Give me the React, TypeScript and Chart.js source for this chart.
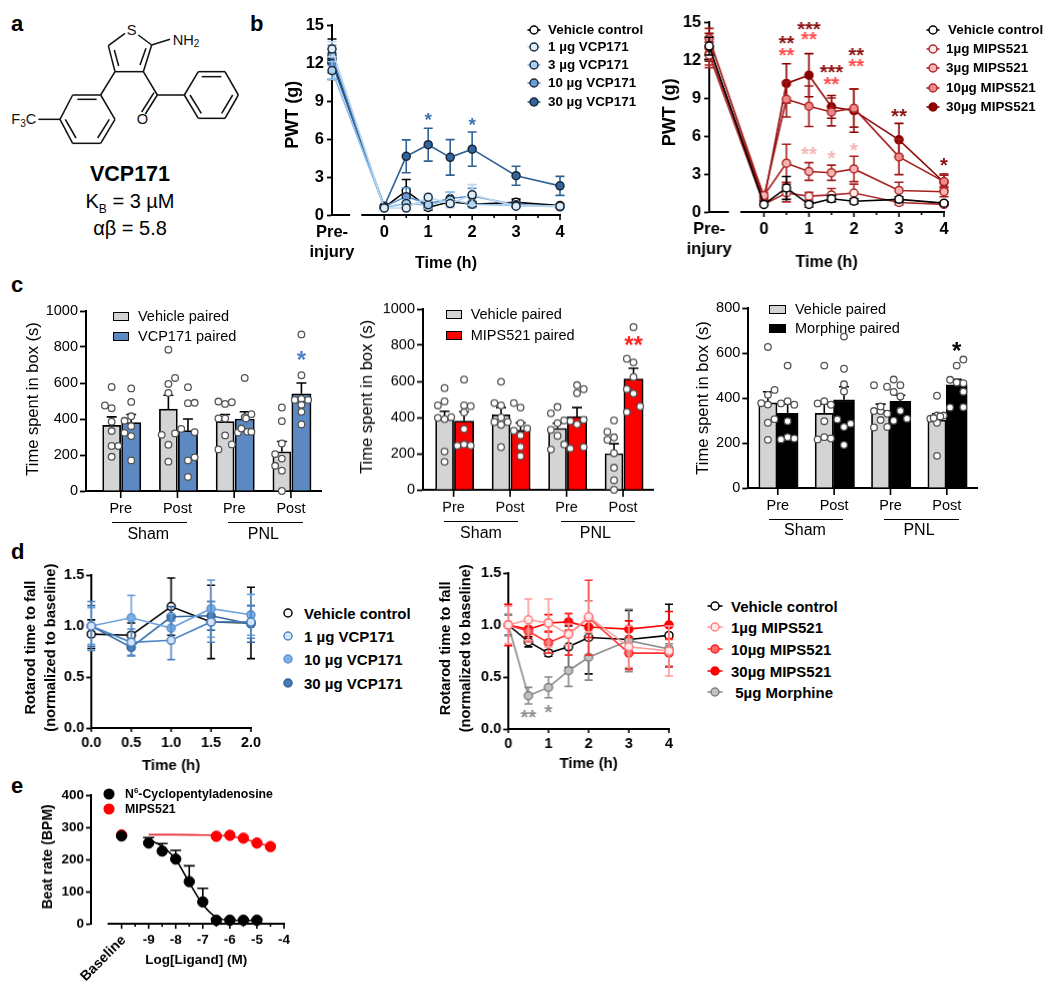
import React, { useEffect, useRef } from 'react';
import { Chart, registerables } from 'chart.js';

Chart.register(...registerables);

const FONT = '"Liberation Sans", Arial, sans-serif';

/* ---------- panel b data ---------- */
const preL = -1.19;
const preR = -1.215;
const bHours = [0, 0.5, 1, 1.5, 2, 3, 4];
const bLVehicle = [12.3, 0.6, 1.9, 0.6, 1.05, 0.85, 1.0, 0.75];
const bLVehicleErr = [1.6, 0.1, 0.9, 0.2, 0.2, 0.2, 0.25, 0.1];
const bL1 = [13.1, 0.55, 0.55, 1.4, 0.9, 1.6, 0.7, 0.7];
const bL1Err = [0.6, 0.1, 0.2, 0.3, 0.3, 0.8, 0.1, 0.1];
const bL3 = [11.4, 0.6, 0.9, 0.8, 1.2, 0.85, 0.75, 0.65];
const bL3Err = [0.7, 0.1, 0.3, 0.3, 0.6, 0.3, 0.1, 0.1];
const bL10 = [12.6, 0.65, 1.45, 0.9, 1.3, 1.5, 0.8, 0.7];
const bL10Err = [0.8, 0.1, 0.7, 0.3, 0.5, 0.6, 0.2, 0.1];
const bL30 = [12.0, 0.7, 4.63, 5.55, 4.55, 5.2, 3.1, 2.3];
const bL30Err = [0.8, 0.1, 1.3, 1.3, 1.4, 1.35, 0.75, 0.75];

const bRVehicle = [13.1, 0.6, 1.9, 0.6, 1.05, 0.85, 1.0, 0.7];
const bRVehicleErr = [0.7, 0.1, 0.9, 0.2, 0.25, 0.2, 0.2, 0.1];
const bR1 = [12.4, 0.6, 1.5, 1.25, 1.35, 1.5, 0.75, 0.6];
const bR1Err = [1.0, 0.1, 0.7, 0.3, 0.5, 0.7, 0.2, 0.1];
const bR3 = [12.5, 1.3, 3.85, 3.2, 3.1, 3.4, 1.7, 1.6];
const bR3Err = [0.9, 0.2, 1.5, 0.7, 0.6, 1.0, 0.65, 0.4];
const bR10 = [13.7, 1.2, 8.9, 8.35, 7.9, 8.2, 4.35, 2.4];
const bR10Err = [0.8, 0.2, 1.4, 1.6, 1.1, 1.5, 1.4, 0.5];
const bR30 = [13.0, 0.9, 10.15, 10.8, 8.3, 8.0, 5.7, 2.35];
const bR30Err = [1.1, 0.2, 1.55, 1.7, 0.9, 1.7, 1.3, 0.65];

/* ---------- panel c data ---------- */
const cGroups = [1, 2, 3, 4];
const cGroupLabels = ['Pre', 'Post', 'Pre', 'Post'];
const c1Veh = [365, 455, 385, 218];
const c1VehTop = [412, 532, 425, 275];
const c1Drug = [380, 335, 400, 540];
const c1DrugTop = [425, 400, 440, 600];
const c2Veh = [390, 415, 340, 200];
const c2VehTop = [435, 455, 368, 255];
const c2Drug = [380, 330, 405, 613];
const c2DrugTop = [432, 370, 455, 672];
const c3Veh = [378, 332, 345, 302];
const c3VehTop = [428, 372, 373, 330];
const c3Drug = [332, 392, 385, 458];
const c3DrugTop = [372, 450, 412, 483];

const c1VehPts = [
  [[-1, 475], [0, 578], [0, 460], [0, 385], [0, 333], [0, 250], [1, 250], [0, 190]],
  [[0, 785], [1, 628], [0, 595], [0, 545], [-1, 312], [1, 320], [0, 257], [0, 163]],
  [[-1, 497], [0, 484], [1, 493], [-1, 403], [0, 403], [0, 309], [1, 259], [-1, 231]],
  [[0, 464], [0, 388], [0, 264], [-1, 205], [0, 180], [-1, 140], [0, 113], [0, 0]],
];
const c1DrugPts = [
  [[0, 570], [0, 495], [0, 415], [-1, 390], [0, 360], [-1, 323], [0, 305], [0, 170]],
  [[0, 577], [0, 488], [1, 490], [-1, 345], [1, 327], [0, 170], [1, 187], [0, 78]],
  [[0, 628], [0, 410], [1, 427], [-1, 325], [-0.5, 347], [0.4, 329], [1, 329], [0.2, 403]],
  [[0, 870], [0, 643], [-1, 506], [0, 512], [1, 506], [0, 479], [0, 440], [0, 370]],
];
const c2VehPts = [
  [[0, 563], [0, 489], [-1, 467], [-1, 398], [0, 391], [1, 402], [0, 212], [0, 155]],
  [[0, 598], [-1, 480], [0, 467], [0, 400], [-1, 375], [1, 375], [0, 360], [0, 236]],
  [[0, 458], [-1, 423], [0, 369], [-1, 332], [1, 384], [0, 299], [1, 251], [-1, 223]],
  [[0, 384], [-1, 321], [0, 290], [-1, 277], [0, 203], [0, 122], [0, 53], [0, 0]],
];
const c2DrugPts = [
  [[0, 610], [0, 467], [1, 463], [0, 428], [0, 336], [-1, 244], [0, 251], [1, 245]],
  [[-1, 480], [0, 455], [0, 369], [-1, 327], [1, 339], [0, 301], [0, 238], [0, 186]],
  [[0, 579], [1, 557], [0, 535], [-1, 380], [1, 387], [0, 362], [-1, 229], [1, 236]],
  [[0, 900], [-1, 725], [0, 705], [0, 624], [-1, 557], [0, 533], [1, 461], [-1, 430]],
];
const c3VehPts = [
  [[0, 627], [1, 436], [0, 414], [-1, 377], [0, 371], [1, 306], [0, 290], [0, 214]],
  [[0, 544], [-1, 376], [0, 386], [1, 370], [0, 297], [-1, 216], [0, 226], [1, 220]],
  [[-1, 457], [-1, 342], [0, 342], [1, 330], [0, 302], [-1, 269], [1, 271], [0, 362]],
  [[0, 410], [-1, 308], [0, 322], [1, 322], [0, 290], [0, 143], [-0.5, 311], [0.5, 318]],
];
const c3DrugPts = [
  [[0, 544], [-1, 376], [0, 386], [1, 370], [0, 297], [-1, 216], [0, 226], [1, 220]],
  [[0, 673], [0, 530], [0, 461], [0, 429], [-1, 305], [1, 286], [0, 271], [0, 191]],
  [[-1, 482], [0, 457], [-2, 450], [-1, 427], [0, 407], [0, 343], [-1, 299], [1, 308]],
  [[1, 571], [0, 544], [-1, 481], [1, 466], [0, 469], [1, 428], [-1, 358], [1, 359]],
];

/* ---------- panel d data ---------- */
const dLHours = [0, 0.5, 1, 1.5, 2];
const dLVehicle = [0.92, 0.91, 1.19, 1.04, 1.03];
const dLVehicleErr = [0.14, 0.12, 0.28, 0.36, 0.35];
const dL1 = [1.0, 0.84, 0.86, 1.04, 1.04];
const dL1Err = [0.24, 0.13, 0.19, 0.2, 0.16];
const dL10 = [1.0, 1.08, 0.98, 1.17, 1.11];
const dL10Err = [0.18, 0.22, 0.14, 0.28, 0.2];
const dL30 = [1.0, 0.79, 1.09, 1.1, 1.02];
const dL30Err = [0.2, 0.08, 0.1, 0.14, 0.18];

const dRHours = [0, 0.5, 1, 1.5, 2, 3, 4];
const dRVehicle = [1.0, 0.84, 0.73, 0.79, 0.88, 0.86, 0.9];
const dRVehicleErr = [0.1, 0.05, 0.03, 0.2, 0.35, 0.28, 0.3];
const dR1 = [1.0, 1.05, 1.02, 0.91, 1.08, 0.79, 0.75];
const dR1Err = [0.18, 0.2, 0.23, 0.1, 0.15, 0.2, 0.24];
const dR10 = [1.0, 0.94, 0.83, 0.91, 1.07, 0.73, 0.73];
const dR10Err = [0.18, 0.1, 0.1, 0.2, 0.36, 0.16, 0.13];
const dR30 = [1.0, 0.96, 1.02, 1.03, 0.98, 0.96, 1.0];
const dR30Err = [0.2, 0.08, 0.08, 0.08, 0.1, 0.08, 0.13];
const dRMorph = [1.0, 0.32, 0.4, 0.56, 0.69, 0.85, 0.77];
const dRMorphErr = [0.1, 0.08, 0.1, 0.15, 0.22, 0.3, 0.05];

/* ---------- panel e data ---------- */
const eDoses = [-9, -8.5, -8, -7.5, -7, -6.5, -6, -5.5, -5];
const eCpa = [251, 226, 201, 131, 68, 11, 11, 11, 11];
const eCpaTop = [268, 249, 228, 180, 110, 16, 14, 14, 14];
const eMipsDoses = [-6.5, -6, -5.5, -5, -4.5];
const eMips = [272, 275, 266, 251, 240];
const eBaselineX = -10;
const eBaseCpa = 273;
const eBaseMips = 276;
const eCpaFitX = [-9, -8.5, -8, -7.5, -7, -6.5, -6, -5];
const eCpaFitY = [262, 240, 200, 128, 60, 20, 11, 10];
const eMipsFitX = [-9, -8, -7, -6.5, -6, -5.5, -5, -4.5];
const eMipsFitY = [277, 277, 276, 275, 272, 264, 252, 240];

/* ---------- colours ---------- */
const K = '#000000';
const blue = {
  b1: { line: '#bcd7ef', fill: '#dcedf9', edge: '#1f2d3d' },
  b3: { line: '#8fbfea', fill: '#a9d2f3', edge: '#1f2d3d' },
  b10: { line: '#5f93cf', fill: '#6f9fd8', edge: '#1f2d3d' },
  b30: { line: '#2f6296', fill: '#35659b', edge: '#16263a' },
  d1: { line: '#4f84c4', fill: '#d6e6f6', edge: '#4f84c4' },
  d10: { line: '#6ea3dc', fill: '#7fb0e4', edge: '#5e95d2' },
  d30: { line: '#33669f', fill: '#4a7db4', edge: '#2f6296' },
};
const red = {
  b1: { line: '#b02a2a', fill: '#fdeeee', edge: '#b02a2a' },
  b3: { line: '#a81f1f', fill: '#f7b4b4', edge: '#b02a2a' },
  b10: { line: '#a01818', fill: '#f08a8a', edge: '#b02a2a' },
  b30: { line: '#8b0000', fill: '#8b0000', edge: '#8b0000' },
  d1: { line: '#ff9a9a', fill: '#ffe9e9', edge: '#ff8080' },
  d10: { line: '#ff3030', fill: '#f76b6b', edge: '#ff2020' },
  d30: { line: '#ff0000', fill: '#ff0000', edge: '#ff0000' },
  morph: { line: '#8a8a8a', fill: '#c2c2c2', edge: '#808080' },
};
const veh = { line: K, fill: '#ffffff', edge: K };

type Style = { line: string; fill: string; edge: string };

function series(xs: number[], ys: number[], err: number[], st: Style, order: number, r = 4, cap = 4.5) {
  return {
    type: 'line',
    data: xs.map((x, i) => ({ x, y: ys[i] })),
    borderColor: st.line,
    borderWidth: 1.6,
    pointBackgroundColor: st.fill,
    pointBorderColor: st.edge,
    pointBorderWidth: 1.5,
    pointRadius: r,
    tension: 0,
    clip: false,
    order,
    err,
    errColor: st.line,
    errCap: cap,
    errBoth: true,
  };
}

function barSet(vals: number[], tops: number[], off: number, fill: string, thick: number, order: number) {
  return {
    type: 'bar',
    data: cGroups.map((g, i) => ({ x: g + off, y: vals[i] })),
    backgroundColor: fill,
    borderColor: K,
    borderWidth: 1.7,
    barThickness: thick,
    grouped: false,
    order,
    err: vals.map((v, i) => tops[i] - v),
    errColor: K,
    errCap: 5,
    errBoth: false,
  };
}

function dots(pts: number[][][], off: number) {
  const data: { x: number; y: number }[] = [];
  pts.forEach((grp, g) => grp.forEach((p) => data.push({ x: cGroups[g] + off + p[0] * 0.118, y: p[1] })));
  return {
    type: 'scatter',
    data,
    pointBackgroundColor: '#ffffff',
    pointBorderColor: '#555555',
    pointBorderWidth: 1.3,
    pointRadius: 3.3,
    clip: false,
    order: 0,
  };
}

type Txt = { t: string; x: number; y: number; font: string; rot?: number; color?: string };
type Star = { x: number; v: number; t: string; color: string; size: number };
type Spec = {
  L: number; T: number; R: number; B: number;
  padL: number; padT: number; padR: number; padB: number;
  xMin: number; xMax: number; yMin: number; yMax: number; yStep: number;
  xTicks: number[]; xLabel: (v: number) => any;
  major: number[]; minor?: number[]; majLen: number; minLen?: number;
  segs: number[][];
  tickFont: any; xTickFont?: any;
  xPad: number; yLen: number; yPad: number;
  xTitle?: any;
  datasets: any[];
  texts?: Txt[]; stars?: Star[];
};

const bold = (size: number) => ({ family: FONT, size, weight: 'bold' as const, lineHeight: 1.2 });
const reg = (size: number) => ({ family: FONT, size, weight: 'normal' as const, lineHeight: 1.2 });

function decor(spec: Spec) {
  const cx0 = spec.L - spec.padL;
  const cy0 = spec.T - spec.padT;
  return {
    id: 'decor',
    beforeDatasetsDraw(chart: any) {
      const c = chart.ctx;
      const sx = chart.scales.x;
      const y0 = chart.chartArea.bottom;
      c.save();
      c.strokeStyle = K;
      c.lineWidth = 2;
      c.beginPath();
      spec.segs.forEach((s) => {
        c.moveTo(sx.getPixelForValue(s[0]) - 1, y0);
        c.lineTo(sx.getPixelForValue(s[1]) + 1, y0);
      });
      c.stroke();
      c.lineWidth = 1.6;
      c.beginPath();
      spec.major.forEach((v) => {
        const p = sx.getPixelForValue(v);
        c.moveTo(p, y0);
        c.lineTo(p, y0 + spec.majLen);
      });
      (spec.minor || []).forEach((v) => {
        const p = sx.getPixelForValue(v);
        c.moveTo(p, y0);
        c.lineTo(p, y0 + (spec.minLen || 3));
      });
      c.stroke();
      c.restore();
    },
    beforeDatasetDraw(chart: any, args: any) {
      const ds: any = chart.data.datasets[args.index];
      if (!ds.err) return;
      const c = chart.ctx;
      const sx = chart.scales.x;
      const sy = chart.scales.y;
      c.save();
      c.strokeStyle = ds.errColor;
      c.lineWidth = 1.6;
      c.beginPath();
      ds.data.forEach((d: any, i: number) => {
        const e = ds.err[i];
        const px = sx.getPixelForValue(d.x);
        const top = sy.getPixelForValue(d.y + e);
        const bot = sy.getPixelForValue(ds.errBoth ? Math.max(d.y - e, 0) : d.y);
        c.moveTo(px, top);
        c.lineTo(px, bot);
        c.moveTo(px - ds.errCap, top);
        c.lineTo(px + ds.errCap, top);
        if (ds.errBoth) {
          c.moveTo(px - ds.errCap, bot);
          c.lineTo(px + ds.errCap, bot);
        }
      });
      c.stroke();
      c.restore();
    },
    afterDatasetsDraw(chart: any) {
      const c = chart.ctx;
      c.save();
      (spec.stars || []).forEach((s) => {
        c.font = `bold ${s.size}px ${FONT}`;
        c.fillStyle = s.color;
        c.textAlign = 'center';
        c.textBaseline = 'alphabetic';
        c.fillText(s.t, chart.scales.x.getPixelForValue(s.x), chart.scales.y.getPixelForValue(s.v) + s.size * 0.43);
      });
      (spec.texts || []).forEach((t) => {
        c.save();
        c.translate(t.x - cx0, t.y - cy0);
        c.rotate(((t.rot || 0) * Math.PI) / 180);
        c.font = t.font;
        c.fillStyle = t.color || K;
        c.textAlign = 'center';
        c.textBaseline = 'middle';
        c.fillText(t.t, 0, 0);
        c.restore();
      });
      c.restore();
    },
  };
}

function Panel({ spec }: { spec: Spec }) {
  const ref = useRef<HTMLCanvasElement | null>(null);
  const w = spec.padL + spec.R - spec.L + spec.padR;
  const h = spec.padT + spec.B - spec.T + spec.padB;
  useEffect(() => {
    const chart = new Chart(ref.current as HTMLCanvasElement, {
      type: 'line',
      data: { datasets: spec.datasets },
      plugins: [decor(spec)],
      options: {
        animation: false,
        responsive: false,
        devicePixelRatio: 1,
        layout: { autoPadding: false, padding: { left: 0, right: spec.padR, top: spec.padT, bottom: 0 } },
        plugins: { legend: { display: false }, tooltip: { enabled: false } },
        scales: {
          x: {
            type: 'linear',
            offset: false,
            min: spec.xMin,
            max: spec.xMax,
            border: { display: false },
            grid: { display: false, drawTicks: true, tickLength: spec.majLen },
            afterBuildTicks: (a: any) => {
              a.ticks = spec.xTicks.map((value) => ({ value }));
            },
            afterFit: (s: any) => {
              s.height = spec.padB;
            },
            ticks: {
              color: K,
              autoSkip: false,
              maxRotation: 0,
              minRotation: 0,
              padding: spec.xPad,
              font: spec.xTickFont || spec.tickFont,
              callback: (v: any) => spec.xLabel(v),
            },
            title: spec.xTitle
              ? { display: true, text: spec.xTitle.text, color: K, font: spec.xTitle.font, padding: 0 }
              : { display: false },
          },
          y: {
            type: 'linear',
            min: spec.yMin,
            max: spec.yMax,
            border: { display: true, width: 2, color: K },
            grid: { display: true, drawOnChartArea: false, drawTicks: true, tickLength: spec.yLen, tickColor: K, tickWidth: 1.8 },
            afterFit: (s: any) => {
              s.width = spec.padL;
            },
            ticks: {
              color: K,
              stepSize: spec.yStep,
              padding: spec.yPad,
              font: spec.tickFont,
              callback: (v: any) => (spec.yStep < 1 ? Number(v).toFixed(1) : String(v)),
            },
          },
        },
      } as any,
    } as any);
    return () => chart.destroy();
  }, []);
  return (
    <canvas
      ref={ref}
      width={w}
      height={h}
      style={{ position: 'absolute', left: spec.L - spec.padL, top: spec.T - spec.padT, width: w, height: h, display: 'block' }}
    />
  );
}

/* ---------- specs ---------- */
const halfHours = [0.5, 1.5, 2.5, 3.5];
const wholeHours = [0, 1, 2, 3, 4];
const timeTitle = (size: number) => ({ text: 'Time (h)', font: bold(size) });

const bLeftSpec: Spec = {
  L: 332, T: 25.3, R: 560.3, B: 215.3, padL: 60, padT: 20, padR: 14, padB: 58,
  xMin: preL, xMax: 4, yMin: 0, yMax: 15, yStep: 3,
  xTicks: [preL, ...wholeHours],
  xLabel: (v) => (v === preL ? ['Pre-', 'injury'] : String(v)),
  major: wholeHours, minor: halfHours, majLen: 5, minLen: 3,
  segs: [[preL, -0.8], [-0.5, 4]],
  tickFont: bold(16.5), xPad: 3, yLen: 5, yPad: 3,
  xTitle: timeTitle(16),
  datasets: [
    series([preL, ...bHours], bLVehicle, bLVehicleErr, veh, 5),
    series([preL, ...bHours], bL30, bL30Err, blue.b30, 4),
    series([preL, ...bHours], bL10, bL10Err, blue.b10, 3),
    series([preL, ...bHours], bL3, bL3Err, blue.b3, 2),
    series([preL, ...bHours], bL1, bL1Err, blue.b1, 1),
  ],
  texts: [{ t: 'PWT (g)', x: 293, y: 115, rot: -90, font: `bold 18px ${FONT}` }],
  stars: [
    { x: 1, v: 7.66, t: '*', color: '#3f74b0', size: 19 },
    { x: 2, v: 7.26, t: '*', color: '#3f74b0', size: 19 },
  ],
};

const darkStar = '#8b1010';
const midStar = '#ff4d4d';
const paleStar = '#f8b4b4';
const bRightSpec: Spec = {
  L: 709.3, T: 21.7, R: 944, B: 212.3, padL: 60, padT: 18, padR: 14, padB: 60,
  xMin: preR, xMax: 4, yMin: 0, yMax: 15, yStep: 3,
  xTicks: [preR, ...wholeHours],
  xLabel: (v) => (v === preR ? ['Pre-', 'injury'] : String(v)),
  major: wholeHours, minor: halfHours, majLen: 5, minLen: 3,
  segs: [[preR, -0.8], [-0.5, 4]],
  tickFont: bold(16.5), xPad: 3, yLen: 5, yPad: 3,
  xTitle: timeTitle(16),
  datasets: [
    series([preR, ...bHours], bRVehicle, bRVehicleErr, veh, 1),
    series([preR, ...bHours], bR1, bR1Err, red.b1, 2),
    series([preR, ...bHours], bR3, bR3Err, red.b3, 3),
    series([preR, ...bHours], bR10, bR10Err, red.b10, 4),
    series([preR, ...bHours], bR30, bR30Err, red.b30, 5),
  ],
  texts: [{ t: 'PWT (g)', x: 670, y: 112, rot: -90, font: `bold 18px ${FONT}` }],
  stars: [
    { x: 0.5, v: 13.48, t: '**', color: darkStar, size: 20 },
    { x: 0.5, v: 12.5, t: '**', color: midStar, size: 20 },
    { x: 1, v: 14.6, t: '***', color: darkStar, size: 20 },
    { x: 1, v: 13.8, t: '**', color: midStar, size: 20 },
    { x: 1.5, v: 11.15, t: '***', color: darkStar, size: 20 },
    { x: 1.5, v: 10.2, t: '**', color: midStar, size: 20 },
    { x: 2.05, v: 12.56, t: '**', color: darkStar, size: 20 },
    { x: 2.05, v: 11.65, t: '**', color: midStar, size: 20 },
    { x: 3, v: 7.74, t: '**', color: darkStar, size: 20 },
    { x: 4, v: 3.8, t: '*', color: darkStar, size: 20 },
    { x: 1, v: 4.7, t: '**', color: paleStar, size: 20 },
    { x: 1.5, v: 4.4, t: '*', color: paleStar, size: 20 },
    { x: 2, v: 5.0, t: '*', color: paleStar, size: 20 },
  ],
};

const groupLabel = (v: number) => cGroupLabels[cGroups.indexOf(v)] ?? '';
const cTexts = (
  titleX: number, titleY: number,
  shamC: number, pnlC: number, labelY: number,
): Txt[] => [
  { t: 'Time spent in box (s)', x: titleX, y: titleY, rot: -90, font: `16.5px ${FONT}` },
  { t: 'Sham', x: shamC, y: labelY, font: `16px ${FONT}` },
  { t: 'PNL', x: pnlC, y: labelY, font: `16px ${FONT}` },
];

function cSpec(
  L: number, T: number, R: number, B: number, xMin: number, xMax: number, yMax: number, yStep: number,
  datasets: any[], texts: Txt[], stars: Star[],
): Spec {
  return {
    L, T, R, B, padL: L - (texts[0].x - 14), padT: 14, padR: 10, padB: 60,
    xMin, xMax, yMin: 0, yMax, yStep,
    xTicks: cGroups, xLabel: groupLabel,
    major: cGroups, majLen: 7, segs: [[xMin, xMax]],
    tickFont: reg(14.5), xTickFont: reg(14.5), xPad: 2, yLen: 6, yPad: 2,
    datasets, texts, stars,
  };
}

const c1Spec = cSpec(
  86, 310.7, 321, 491, 0.388, 4.53, 1000, 200,
  [
    barSet(c1Veh, c1VehTop, -0.16, '#d4d4d4', 18, 3),
    barSet(c1Drug, c1DrugTop, 0.185, '#5c89c2', 19.3, 2),
    dots(c1VehPts, -0.16),
    dots(c1DrugPts, 0.185),
  ],
  cTexts(33, 398.7, 148.3, 263.3, 534),
  [{ x: 4.185, v: 741, t: '*', color: '#4f82cc', size: 24 }],
);
const c2Spec = cSpec(
  422.7, 309.3, 653.3, 490, 0.458, 4.53, 1000, 200,
  [
    barSet(c2Veh, c2VehTop, -0.16, '#d4d4d4', 18, 3),
    barSet(c2Drug, c2DrugTop, 0.185, '#ff0000', 19.3, 2),
    dots(c2VehPts, -0.16),
    dots(c2DrugPts, 0.185),
  ],
  cTexts(366.7, 396.7, 480.7, 595, 533),
  [{ x: 4.185, v: 812, t: '**', color: '#ff2020', size: 24 }],
);
const c3Spec = cSpec(
  748.3, 308, 977.3, 488.3, 0.477, 4.535, 800, 200,
  [
    barSet(c3Veh, c3VehTop, -0.175, '#d4d4d4', 18.3, 3),
    barSet(c3Drug, c3DrugTop, 0.175, '#000000', 21, 2),
    dots(c3VehPts, -0.175),
    dots(c3DrugPts, 0.175),
  ],
  cTexts(703, 398, 805, 919, 531),
  [{ x: 4.175, v: 621, t: '*', color: K, size: 24 }],
);

const dLeftSpec: Spec = {
  L: 91, T: 575.3, R: 250.7, B: 728.3, padL: 70, padT: 14, padR: 16, padB: 47,
  xMin: 0, xMax: 2, yMin: 0, yMax: 1.5, yStep: 0.5,
  xTicks: dLHours, xLabel: (v) => v.toFixed(1),
  major: dLHours, majLen: 4, segs: [[0, 2]],
  tickFont: bold(14.5), xPad: 2, yLen: 5, yPad: 2,
  xTitle: timeTitle(15),
  datasets: [
    series(dLHours, dLVehicle, dLVehicleErr, veh, 4, 4, 4),
    series(dLHours, dL30, dL30Err, blue.d30, 3, 4, 4),
    series(dLHours, dL10, dL10Err, blue.d10, 2, 4, 4),
    series(dLHours, dL1, dL1Err, blue.d1, 1, 4, 4),
  ],
  texts: [
    { t: 'Rotarod time to fall', x: 31, y: 648, rot: -90, font: `bold 14.7px ${FONT}` },
    { t: '(normalized to baseline)', x: 50.7, y: 648, rot: -90, font: `bold 14.7px ${FONT}` },
  ],
};

const dRightSpec: Spec = {
  L: 508.3, T: 572.7, R: 669.3, B: 729, padL: 70, padT: 14, padR: 16, padB: 44,
  xMin: 0, xMax: 4, yMin: 0, yMax: 1.5, yStep: 0.5,
  xTicks: wholeHours, xLabel: (v) => String(v),
  major: wholeHours, majLen: 4, segs: [[0, 4]],
  tickFont: bold(14.5), xPad: 2, yLen: 5, yPad: 2,
  xTitle: timeTitle(15),
  datasets: [
    series(dRHours, dRVehicle, dRVehicleErr, veh, 5, 4, 4),
    series(dRHours, dRMorph, dRMorphErr, red.morph, 4, 4, 4),
    series(dRHours, dR30, dR30Err, red.d30, 3, 4, 4),
    series(dRHours, dR10, dR10Err, red.d10, 2, 4, 4),
    series(dRHours, dR1, dR1Err, red.d1, 1, 4, 4),
  ],
  texts: [
    { t: 'Rotarod time to fall', x: 446.5, y: 648, rot: -90, font: `bold 14.7px ${FONT}` },
    { t: '(normalized to baseline)', x: 466.5, y: 648, rot: -90, font: `bold 14.7px ${FONT}` },
  ],
  stars: [
    { x: 0.5, v: 0.128, t: '**', color: '#8f8f8f', size: 20 },
    { x: 1, v: 0.18, t: '*', color: '#8f8f8f', size: 20 },
  ],
};

const eAxisTicks = [-10, -9, -8, -7, -6, -5, -4];
const eMinor = [-9.5, -8.5, -7.5, -6.5, -5.5, -4.5];
const pointSet = (xs: number[], ys: number[], color: string, order: number, tops?: number[]) => ({
  type: 'scatter',
  data: xs.map((x, i) => ({ x, y: ys[i] })),
  pointBackgroundColor: color,
  pointBorderColor: color,
  pointRadius: 5.2,
  clip: false,
  order,
  ...(tops ? { err: ys.map((y, i) => tops[i] - y), errColor: K, errCap: 5.5, errBoth: false } : {}),
});
const fitSet = (xs: number[], ys: number[], color: string, order: number) => ({
  type: 'line',
  data: xs.map((x, i) => ({ x, y: ys[i] })),
  borderColor: color,
  borderWidth: 1.6,
  pointRadius: 0,
  cubicInterpolationMode: 'monotone',
  clip: false,
  order,
});

const eSpec: Spec = {
  L: 90.7, T: 795.3, R: 283.7, B: 924, padL: 60, padT: 12, padR: 10, padB: 60,
  xMin: -11.13, xMax: -4, yMin: 0, yMax: 400, yStep: 100,
  xTicks: eAxisTicks, xLabel: (v) => (v === -10 ? '' : String(v)),
  major: eAxisTicks, minor: eMinor, majLen: 5, minLen: 3, segs: [[-10.48, -4]],
  tickFont: bold(13.5), xPad: 3, yLen: 5, yPad: 2,
  datasets: [
    fitSet(eMipsFitX, eMipsFitY, '#e8262c', 6),
    fitSet(eCpaFitX, eCpaFitY, K, 5),
    pointSet([eBaselineX], [eBaseMips], '#ff0000', 4),
    pointSet(eMipsDoses, eMips, '#ff0000', 3),
    pointSet(eDoses, eCpa, K, 2, eCpaTop),
    pointSet([eBaselineX], [eBaseCpa], K, 1),
  ],
  texts: [
    { t: 'Beat rate (BPM)', x: 48, y: 856.7, rot: -90, font: `bold 14px ${FONT}` },
    { t: 'Log[Ligand] (M)', x: 196, y: 960, font: `bold 13.5px ${FONT}` },
    { t: 'Baseline', x: 103, y: 958, rot: -45, font: `bold 14px ${FONT}` },
  ],
};

/* ---------- DOM helpers ---------- */
function Label({ x, y, children, style }: { x: number; y: number; children: React.ReactNode; style?: React.CSSProperties }) {
  return (
    <div style={{ position: 'absolute', left: x, top: y, transform: 'translateY(-50%)', whiteSpace: 'nowrap', fontFamily: FONT, color: K, lineHeight: 1, ...style }}>
      {children}
    </div>
  );
}

function MarkerKey({ cx, y, st, halfLine = 0, r = 4 }: { cx: number; y: number; st: Style; halfLine?: number; r?: number }) {
  return (
    <svg width={40} height={16} style={{ position: 'absolute', left: cx - 20, top: y - 8 }}>
      {halfLine > 0 && <line x1={20 - halfLine} x2={20 + halfLine} y1={8} y2={8} stroke={st.line} strokeWidth={1.6} />}
      <circle cx={20} cy={8} r={r} fill={st.fill} stroke={st.edge} strokeWidth={1.5} />
    </svg>
  );
}

function BoxKey({ x, y, w, fill }: { x: number; y: number; w: number; fill: string }) {
  return <div style={{ position: 'absolute', left: x, top: y - 4.5, width: w, height: 9, boxSizing: 'border-box', background: fill, border: '1.7px solid #000' }} />;
}

function Rule({ x1, x2, y }: { x1: number; x2: number; y: number }) {
  return <div style={{ position: 'absolute', left: x1, top: y - 0.75, width: x2 - x1, height: 1.5, background: '#000' }} />;
}

const bLeftLegend = [
  { y: 30, text: 'Vehicle control', st: veh },
  { y: 47, text: '1 µg VCP171', st: blue.b1 },
  { y: 65, text: '3 µg VCP171', st: blue.b3 },
  { y: 83, text: '10 µg VCP171', st: blue.b10 },
  { y: 102, text: '30 µg VCP171', st: blue.b30 },
];
const bRightLegend = [
  { y: 30, text: 'Vehicle control', st: veh, tx: 948 },
  { y: 49, text: '1µg MIPS521', st: red.b1, tx: 946 },
  { y: 68, text: '3µg MIPS521', st: red.b3, tx: 946 },
  { y: 88, text: '10µg MIPS521', st: red.b10, tx: 946 },
  { y: 107, text: '30µg MIPS521', st: red.b30, tx: 946 },
];
const dLeftLegend = [
  { y: 613, text: 'Vehicle control', st: veh },
  { y: 635.7, text: '1 µg VCP171', st: blue.d1 },
  { y: 659, text: '10 µg VCP171', st: blue.d10 },
  { y: 683, text: '30 µg VCP171', st: blue.d30 },
];
const dRightLegend = [
  { y: 606, text: 'Vehicle control', st: veh },
  { y: 626.7, text: '1µg MIPS521', st: red.d1 },
  { y: 649, text: '10µg MIPS521', st: red.d10 },
  { y: 671, text: '30µg MIPS521', st: red.d30 },
  { y: 692.3, text: ' 5µg Morphine', st: red.morph },
];

/* molecule bonds in a 3x drawing space */
const bonds = [
  [375, 100, 325, 137], [325, 137, 345, 215], [343, 150, 356, 198], [345, 215, 430, 215],
  [430, 215, 455, 135], [420, 195, 438, 145], [455, 135, 415, 105], [455, 135, 510, 118],
  [345, 215, 302, 285], [302, 285, 218, 285], [218, 285, 180, 358], [180, 358, 218, 430],
  [218, 430, 302, 430], [302, 430, 345, 358], [345, 358, 302, 285], [232, 298, 290, 298],
  [196, 358, 228, 414], [293, 414, 328, 358], [180, 358, 115, 358],
  [430, 215, 472, 285], [472, 285, 436, 342], [462, 278, 425, 336], [472, 285, 553, 285],
  [553, 285, 595, 215], [595, 215, 675, 215], [675, 215, 715, 285], [715, 285, 675, 355],
  [675, 355, 595, 355], [595, 355, 553, 285], [605, 230, 664, 230], [698, 285, 665, 340],
  [570, 285, 604, 340],
];

function Molecule() {
  return (
    <svg width={260} height={160} viewBox="0 0 780 480" style={{ position: 'absolute', left: 0, top: 0 }}>
      {bonds.map((b, i) => (
        <line key={i} x1={b[0]} y1={b[1]} x2={b[2]} y2={b[3]} stroke="#111" strokeWidth={4.6} />
      ))}
      <g fontFamily={FONT} fontSize={44} fill="#111">
        <text x={395} y={104} textAnchor="middle">S</text>
        <text x={518} y={134}>NH<tspan fontSize={30} dy={8}>2</tspan></text>
        <text x={34} y={373}>F<tspan fontSize={30} dy={8}>3</tspan><tspan dy={-8}>C</tspan></text>
        <text x={427} y={373} textAnchor="middle">O</text>
      </g>
    </svg>
  );
}

export default function App() {
  return (
    <div style={{ position: 'absolute', left: 0, top: 0, width: 1050, height: 987, overflow: 'hidden', background: '#fff' }}>
      <Molecule />
      {[['a', 11, 24], ['b', 250, 24], ['c', 11, 285], ['d', 11, 552], ['e', 11, 786]].map(([t, x, y]) => (
        <Label key={t as string} x={x as number} y={y as number} style={{ fontSize: 22, fontWeight: 'bold' }}>{t}</Label>
      ))}
      <Label x={130} y={175} style={{ fontSize: 21.5, fontWeight: 'bold', transform: 'translate(-50%,-50%)' }}>VCP171</Label>
      <Label x={130} y={201} style={{ fontSize: 20, transform: 'translate(-50%,-50%)' }}>
        K<sub style={{ fontSize: 12, lineHeight: 0 }}>B</sub> = 3 µM
      </Label>
      <Label x={130} y={228} style={{ fontSize: 20, transform: 'translate(-50%,-50%)' }}>αβ = 5.8</Label>

      <Panel spec={bLeftSpec} />
      <Panel spec={bRightSpec} />
      <Panel spec={c1Spec} />
      <Panel spec={c2Spec} />
      <Panel spec={c3Spec} />
      <Panel spec={dLeftSpec} />
      <Panel spec={dRightSpec} />
      <Panel spec={eSpec} />

      {bLeftLegend.map((l) => (
        <React.Fragment key={l.text}>
          <MarkerKey cx={534} y={l.y} st={l.st} halfLine={6.5} />
          <Label x={548} y={l.y} style={{ fontSize: 13.4, fontWeight: 'bold' }}>{l.text}</Label>
        </React.Fragment>
      ))}
      {bRightLegend.map((l) => (
        <React.Fragment key={l.text}>
          <MarkerKey cx={933} y={l.y} st={l.st} halfLine={6.5} />
          <Label x={l.tx} y={l.y} style={{ fontSize: 13.4, fontWeight: 'bold' }}>{l.text}</Label>
        </React.Fragment>
      ))}

      <BoxKey x={113} y={316} w={16} fill="#d4d4d4" />
      <BoxKey x={113} y={336} w={16} fill="#5c89c2" />
      <Label x={138} y={316} style={{ fontSize: 14.5 }}>Vehicle paired</Label>
      <Label x={138} y={336} style={{ fontSize: 14.5 }}>VCP171 paired</Label>
      <Rule x1={111.7} x2={186.7} y={522.3} />
      <Rule x1={228.3} x2={302.7} y={522.3} />

      <BoxKey x={445.7} y={314} w={16} fill="#d4d4d4" />
      <BoxKey x={445.7} y={335} w={16} fill="#ff0000" />
      <Label x={470.7} y={314} style={{ fontSize: 14.5 }}>Vehicle paired</Label>
      <Label x={470.7} y={335} style={{ fontSize: 14.5 }}>MIPS521 paired</Label>
      <Rule x1={444.3} x2={518.3} y={521.7} />
      <Rule x1={560.7} x2={635} y={521.7} />

      <BoxKey x={769} y={309} w={17} fill="#d4d4d4" />
      <BoxKey x={769} y={328} w={17} fill="#000000" />
      <Label x={795} y={309} style={{ fontSize: 14.5 }}>Vehicle paired</Label>
      <Label x={795} y={328} style={{ fontSize: 14.5 }}>Morphine paired</Label>
      <Rule x1={768.7} x2={842.7} y={519.3} />
      <Rule x1={884.3} x2={959} y={519.3} />

      {dLeftLegend.map((l) => (
        <React.Fragment key={l.text}>
          <MarkerKey cx={288} y={l.y} st={l.st} />
          <Label x={304} y={l.y} style={{ fontSize: 15, fontWeight: 'bold' }}>{l.text}</Label>
        </React.Fragment>
      ))}
      {dRightLegend.map((l) => (
        <React.Fragment key={l.text}>
          <MarkerKey cx={714.5} y={l.y} st={l.st} halfLine={7.5} />
          <Label x={731} y={l.y} style={{ fontSize: 15, fontWeight: 'bold', whiteSpace: 'pre' }}>{l.text}</Label>
        </React.Fragment>
      ))}

      <MarkerKey cx={109} y={794} st={{ line: K, fill: K, edge: K }} r={4.8} />
      <MarkerKey cx={109} y={809} st={{ line: '#f00', fill: '#f00', edge: '#f00' }} r={4.8} />
      <Label x={125} y={794} style={{ fontSize: 12.3, fontWeight: 'bold' }}>
        N<sup style={{ fontSize: 8, lineHeight: 0 }}>6</sup>-Cyclopentyladenosine
      </Label>
      <Label x={125} y={809} style={{ fontSize: 12.3, fontWeight: 'bold' }}>MIPS521</Label>
    </div>
  );
}
